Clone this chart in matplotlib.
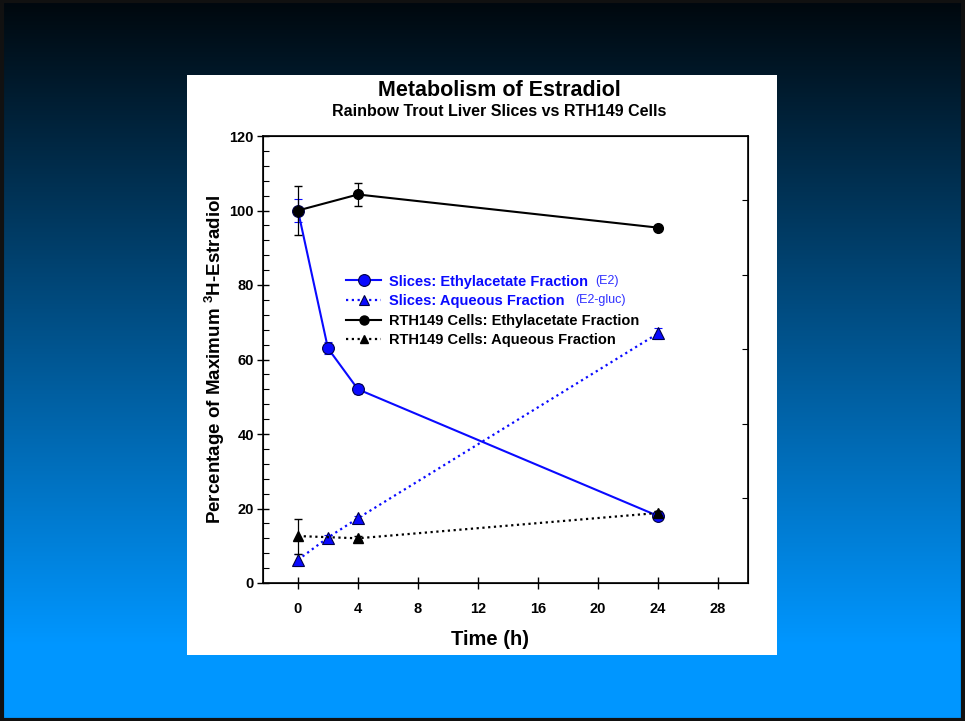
import matplotlib
matplotlib.use('Agg')
import matplotlib.pyplot as plt
import numpy as np
from matplotlib.patches import Rectangle
from matplotlib.lines import Line2D

plt.rcParams['font.family'] = ['Liberation Sans', 'DejaVu Sans']
plt.rcParams['font.weight'] = 'bold'
plt.rcParams['mathtext.fontset'] = 'custom'
plt.rcParams['mathtext.rm'] = 'Liberation Sans:bold'
plt.rcParams['mathtext.bf'] = 'Liberation Sans:bold'

# --- data ---
t_slices = [0, 2, 4, 24]
slices_etac = [100, 63, 52, 18]
slices_etac_err = [3.0, 1.6, 1.3, 0.5]
slices_aq = [6.2, 12.2, 17.4, 67]
slices_aq_err = [1.6, 0.6, 0.6, 1.5]

t_cells = [0, 4, 24]
cells_etac = [100, 104.3, 95.4]
cells_etac_err = [6.5, 3.0, 0.5]
cells_aq = [12.6, 12.0, 18.8]
cells_aq_err = [4.7, 0.5, 0.5]

x_ticks = [0, 4, 8, 12, 16, 20, 24, 28]
y_ticks = [0, 20, 40, 60, 80, 100, 120]

labels = ['Slices: Ethylacetate Fraction', 'Slices: Aqueous Fraction',
          'RTH149 Cells: Ethylacetate Fraction', 'RTH149 Cells: Aqueous Fraction']
notes = ['(E2)', '(E2-gluc)']

W, H = 965, 721
fig = plt.figure(figsize=(W / 100, H / 100), dpi=100)

# fondo degradado
bg = fig.add_axes([0, 0, 1, 1], zorder=-10)
ramp = np.clip(np.linspace(-0.01, 1.12, 400), 0, 1)[:, None]
c_top = np.array([0.0, 0.035, 0.06])
c_bot = np.array([0.0, 0.59, 1.0])
grad = c_top + (c_bot - c_top) * ramp[:, :, None] * np.ones((1, 2, 1))
bg.imshow(grad, aspect='auto', extent=[0, 1, 0, 1])
bg.axis('off')
fig.patches.append(Rectangle((0.002, 0.002), 0.996, 0.996, transform=fig.transFigure,
                             fill=False, edgecolor='#111111', linewidth=3, zorder=-5))

# panel blanco
fig.patches.append(Rectangle((187 / W, 1 - 655 / H), 590 / W, 580 / H,
                             transform=fig.transFigure, facecolor='white',
                             edgecolor='none', zorder=-4))

ax = fig.add_axes([263 / W, 1 - 583 / H, (748 - 263) / W, (583 - 136) / H])
ax.set_facecolor('white')

blue = '#0a0aff'
dots = (0, (1, 1.6))

ax.errorbar(t_slices, slices_etac, yerr=slices_etac_err, color=blue, lw=1.5,
            marker='o', ms=8.5, mfc=blue, mec='#000044', mew=0.8,
            capsize=3, elinewidth=0.9, ecolor=blue, zorder=3)
ax.errorbar(t_slices, slices_aq, yerr=slices_aq_err, color=blue, lw=1.6, ls=dots,
            marker='^', ms=8.5, mfc=blue, mec='#000044', mew=0.8,
            capsize=3, elinewidth=0.9, ecolor=blue, zorder=3)
ax.errorbar(t_cells, cells_etac, yerr=cells_etac_err, color='black', lw=1.5,
            marker='o', ms=7, mfc='black', mec='black',
            capsize=3, elinewidth=0.9, ecolor='black', zorder=4)
ax.errorbar(t_cells, cells_aq, yerr=cells_aq_err, color='black', lw=1.6, ls=dots,
            marker='^', ms=7, mfc='black', mec='black',
            capsize=3, elinewidth=0.9, ecolor='black', zorder=4)

ax.set_xlim(-2.33, 30)
ax.set_ylim(0, 120)
ax.set_xticks(x_ticks)
ax.set_yticks(y_ticks)
ax.set_yticks(np.arange(0, 121, 4), minor=True)
ax.tick_params(axis='both', which='major', direction='inout', length=9, width=1,
               labelsize=10.5, pad=2)
ax.tick_params(axis='y', which='minor', direction='in', length=4, width=0.8)
ax.tick_params(axis='x', which='major', pad=9)
for lab in ax.get_xticklabels() + ax.get_yticklabels():
    lab.set_fontweight('bold')
for sp in ax.spines.values():
    sp.set_linewidth(1.2)

# marcas del eje derecho
ax_r = ax.twinx()
ax_r.set_ylim(0, 120)
ax_r.set_yticks([22.7, 42.7, 62.7, 82.7, 102.7])
ax_r.tick_params(axis='y', direction='in', length=4, width=0.8, labelright=False)

ax.set_xlabel('Time (h)', fontsize=14.5, fontweight='bold')
ax.xaxis.set_label_coords(0.468, -0.105)
ax.set_ylabel(r'Percentage of Maximum $^{3}$H-Estradiol', fontsize=13.5, fontweight='bold')
ax.yaxis.set_label_coords(-0.075, 0.5)

fig.text(499 / W, 1 - 91 / H, 'Metabolism of Estradiol', ha='center', va='center',
         fontsize=15.5, fontweight='bold')
fig.text(499 / W, 1 - 111 / H, 'Rainbow Trout Liver Slices vs RTH149 Cells',
         ha='center', va='center', fontsize=11.5, fontweight='bold')

handles = [
    Line2D([], [], color=blue, lw=1.5, marker='o', ms=8.5, mfc=blue, mec='#000044', mew=0.8),
    Line2D([], [], color=blue, lw=1.6, ls=dots, marker='^', ms=7, mfc=blue, mec='#000044', mew=0.8),
    Line2D([], [], color='black', lw=1.5, marker='o', ms=6.5),
    Line2D([], [], color='black', lw=1.6, ls=dots, marker='^', ms=6),
]
leg = ax.legend(handles, labels, loc='upper left', bbox_to_anchor=(0.172, 0.69),
                frameon=False, handlelength=2.4, handletextpad=0.55, labelspacing=0.38,
                borderpad=0, borderaxespad=0,
                prop={'weight': 'bold', 'size': 10.5},
                labelcolor=[blue, blue, 'black', 'black'])

# notas al lado de las dos primeras entradas
fig.canvas.draw()
inv = fig.transFigure.inverted()
for txt, note, gap in zip(leg.get_texts()[:2], notes, [7, 10]):
    bb = txt.get_window_extent()
    fx, fy = inv.transform((bb.x1 + gap, (bb.y0 + bb.y1) / 2 + 1))
    fig.text(fx, fy, note, ha='left', va='center', fontsize=9,
             fontweight='normal', color='#3030ff')

fig.savefig('out.png', dpi=100)
